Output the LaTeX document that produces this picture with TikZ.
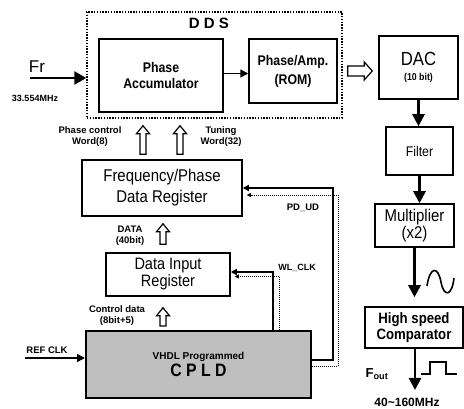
\documentclass[tikz,border=0pt]{standalone}
\usepackage{fontspec}
\setmainfont{Liberation Sans}
\newfontfamily\condf[FakeStretch=0.88]{Liberation Sans}
\usetikzlibrary{arrows.meta,calc}
\newcommand\fsz[2]{\fontsize{#1}{#2}\selectfont}
\begin{document}
\begin{tikzpicture}[x=1pt,y=-1pt,
  box/.style={draw, line width=1.5pt, inner sep=0pt, align=center},
  dotbox/.style={draw, line width=1.4pt, dash pattern=on 1.4pt off 1.4pt, inner sep=0pt},
  lbl/.style={font=\bfseries\fsz{9.5}{11}, align=center, inner sep=0pt},
  hollow/.style={draw, fill=white, line width=1.2pt, line join=miter},
  hollowup/.style={to path={let \p1=(\tikztostart), \p2=(\tikztotarget) in
     (\x1-3pt,\y1) -- (\x1-3pt,\y2-8pt) -- (\x1-6.5pt,\y2-8pt) -- (\x1,\y2) --
     (\x1+6.5pt,\y2-8pt) -- (\x1+3pt,\y2-8pt) -- (\x1+3pt,\y1) -- cycle}},
  hollowright/.style={to path={let \p1=(\tikztostart), \p2=(\tikztotarget) in
     (\x1,\y1+5pt) -- (\x2-8pt,\y1+5pt) -- (\x2-8pt,\y1+9pt) -- (\x2,\y1) --
     (\x2-8pt,\y1-9pt) -- (\x2-8pt,\y1-5pt) -- (\x1,\y1-5pt) -- cycle}},
  frarrow/.style={line width=2.4pt, -{Triangle[length=12pt,width=13pt]}},
  thickarrow/.style={line width=2.6pt, -{Triangle[length=12pt,width=12pt]}},
  medarrow/.style={line width=1.5pt, -{Triangle[length=8pt,width=8pt]}},
  wire/.style={line width=1.2pt, -{Triangle[length=6pt,width=6pt]}},
  dotwire/.style={line width=0.7pt, dash pattern=on 1pt off 1pt, -{Triangle[length=4pt,width=4pt]}}
]
\useasboundingbox (0,0) rectangle (464,409);
\fill[white] (0,0) rectangle (464,409);

% DDS block
\node[dotbox, minimum width=255pt, minimum height=106pt] (dds) at (214.5,65) {};
\node[font=\bfseries\fsz{15}{18}] (ddsl) at (209,23) {D D S};
\node[box, font=\condf\bfseries\fsz{14}{15.5}, minimum width=124pt, minimum height=73pt] (acc) at (161,75.5) {Phase\\Accumulator};
\node[box, font=\condf\bfseries\fsz{14}{19}, minimum width=88pt, minimum height=64pt] (rom) at (293,71) {Phase/Amp.\\(ROM)};
\draw[medarrow] ([yshift=2pt]acc.east) -- ([yshift=2pt]acc.east -| rom.west);

\coordinate (frin) at (30,78);
\draw[frarrow] (frin) -- (frin -| dds.west);
\node[font=\fsz{17}{18}] (frl) at (37,67) {Fr};
\node[font=\bfseries\fsz{9}{10}] (frq) at (35,98) {33.554MHz};

% right column
\node[box, font=\condf\fsz{19}{20}, minimum width=79pt, minimum height=63pt] (dac) at (418.5,67.5) {DAC\\[-5pt]{\bfseries\fsz{10}{10}(10 bit)}};
\node[box, font=\condf\fsz{14}{16}, minimum width=67pt, minimum height=48pt] (filt) at (419.5,151) {Filter};
\node[box, font=\condf\fsz{17}{17}, minimum width=79pt, minimum height=43pt] (mult) at (414.5,225.5) {Multiplier\\(x2)};
\node[box, font=\condf\bfseries\fsz{15}{15.5}, minimum width=98pt, minimum height=41pt] (comp) at (414,327.5) {High speed\\Comparator};

\coordinate (hrs) at ([xshift=10pt]rom.east);
\coordinate (hre) at ([xshift=-6pt]dac.west);
\draw[hollow, hollowright] (hrs) to (hre);

\draw[thickarrow] (dac.south) -- (dac.south |- filt.north);
\draw[thickarrow] (filt.south) -- (filt.south |- mult.north);
\draw[thickarrow, shorten >=9pt] (mult.south) -- (mult.south |- comp.north);
\coordinate (fout) at (415,390);
\draw[thickarrow] (comp.south -| fout) -- (fout);

\draw[line width=1.6pt] (427,286) .. controls (430,266) and (438,266) .. (441,282) .. controls (444,298) and (452,296) .. (454,278);
\draw[line width=1.5pt] (421,374) -- (430,374) -- (430,362) -- (446,362) -- (446,374) -- (457,374);
\node[font=\bfseries\fsz{13}{14}] (foutl) at (377,374) {F\textsubscript{out}};
\node[font=\bfseries\fsz{12}{13}, anchor=north, inner sep=0pt] (range) at (407,397.5) {40\textasciitilde160MHz};

% left column
\node[box, font=\condf\fsz{17}{21}, minimum width=160pt, minimum height=56pt] (freq) at (162,188) {Frequency/Phase\\Data Register};
\node[box, font=\condf\fsz{16.5}{17}, minimum width=124pt, minimum height=43pt] (dir) at (168,274.5) {Data Input\\Register};
\node[box, fill=black!25, line width=2pt, minimum width=225pt, minimum height=67pt, font=\bfseries] (cpld) at (198.5,364.5) {{\fsz{10}{12}VHDL Programmed}\\[1pt]{\condf\fsz{18}{18}C P L D}};

% hollow up arrows
\coordinate (h1s) at ([xshift=-19pt,yshift=5pt]freq.north);
\coordinate (h1e) at ([yshift=-7pt]dds.south);
\coordinate (h2s) at ([xshift=18pt,yshift=5pt]freq.north);
\draw[hollow, hollowup] (h1s) to (h1e);
\draw[hollow, hollowup] (h2s) to (h1e);
\coordinate (h3s) at ([xshift=-5pt,yshift=8pt]dir.north);
\coordinate (h3e) at ([yshift=-7pt]freq.south);
\draw[hollow, hollowup] (h3s) to (h3e);
\coordinate (h4s) at ([xshift=-35.5pt,yshift=4pt]cpld.north);
\coordinate (h4e) at ([yshift=-11pt]dir.south);
\draw[hollow, hollowup] (h4s) to (h4e);

% labels
\node[lbl] (pcw) at (90,137) {Phase control\\Word(8)};
\node[lbl] (tw) at (221,137) {Tuning\\Word(32)};
\node[lbl] (datal) at (130,235.5) {DATA\\(40bit)};
\node[lbl] (ctl) at (117,316) {Control data\\(8bit+5)};
\node[lbl] (refl) at (47,350) {REF CLK};
\node[lbl] (pdl) at (303,208) {PD\_UD};
\node[lbl, font=\bfseries\fsz{9}{11}] (wll) at (297,268) {WL\_CLK};

\coordinate (refin) at (25,358);
\draw[medarrow] (refin) -- (refin -| cpld.west);

% control lines
\coordinate (pdA) at (333,360);
\draw[wire] (cpld.east |- pdA) -- (pdA) -- (pdA |- freq.east) -- (freq.east);
\coordinate (pdB) at (338,366);
\coordinate (pdC) at ([yshift=-7pt]freq.east);
\draw[dotwire, shorten >=4pt] (cpld.east |- pdB) -- (pdB) -- (pdB |- pdC) -- (pdC);

\coordinate (wlA) at (273,272);
\draw[wire] (wlA |- cpld.north) -- (wlA) -- (wlA -| dir.east);
\coordinate (wlB) at (279,276.5);
\draw[dotwire, shorten >=4pt] (wlB |- cpld.north) -- (wlB) -- (wlB -| dir.east);
\end{tikzpicture}
\end{document}
